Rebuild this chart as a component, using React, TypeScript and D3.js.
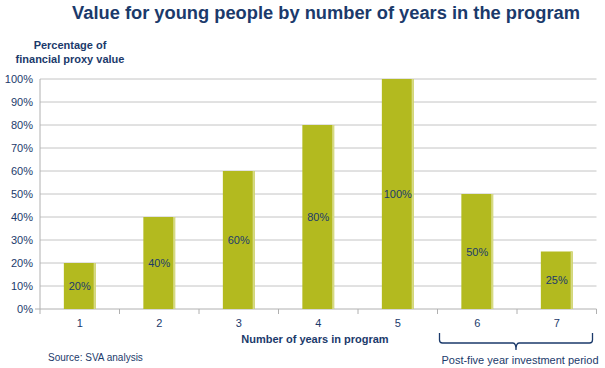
import * as React from 'react';
import * as d3 from 'd3';

const years = ['1', '2', '3', '4', '5', '6', '7'];
const values = [20, 40, 60, 80, 100, 50, 25];
const yTicks = [0, 10, 20, 30, 40, 50, 60, 70, 80, 90, 100];

const navy = '#1b3a6b';
const barColor = '#b3ba1f';
const font = 'Liberation Sans, Arial, sans-serif';

export default function App() {
  const ref = React.useRef<SVGSVGElement>(null);

  React.useEffect(() => {
    const svg = d3.select(ref.current);
    svg.selectAll('*').remove();

    const left = 40, right = 596.5, top = 79, bottom = 309;

    const x = d3.scaleBand().domain(years).range([left, right]).paddingInner(0.6).paddingOuter(0.3);
    const xb = d3.scaleBand().domain(years).range([left, right]);
    const y = d3.scaleLinear().domain([0, 100]).range([bottom, top]);

    // gridlines
    svg.append('g').selectAll('line').data(yTicks.filter(d => d > 0)).enter()
      .append('line')
      .attr('x1', left).attr('x2', right)
      .attr('y1', d => y(d)).attr('y2', d => y(d))
      .attr('stroke', '#c4c4c4').attr('stroke-width', 1);

    // y tick labels
    svg.append('g').selectAll('text').data(yTicks).enter()
      .append('text')
      .attr('x', left - 7).attr('y', d => y(d) + 4)
      .attr('text-anchor', 'end')
      .attr('font-family', font).attr('font-size', 11).attr('fill', navy)
      .text(d => `${d}%`);

    // axes
    svg.append('line').attr('x1', left).attr('x2', left).attr('y1', top).attr('y2', bottom + 5)
      .attr('stroke', '#b0b0b0');
    svg.append('line').attr('x1', left - 5).attr('x2', right).attr('y1', bottom).attr('y2', bottom)
      .attr('stroke', '#b0b0b0');
    svg.append('g').selectAll('line').data(years).enter()
      .append('line')
      .attr('x1', d => (xb(d) as number) + xb.bandwidth()).attr('x2', d => (xb(d) as number) + xb.bandwidth())
      .attr('y1', bottom).attr('y2', bottom + 5)
      .attr('stroke', '#b0b0b0');

    // bars
    const bars = svg.append('g').selectAll('g').data(years).enter().append('g');
    bars.append('rect')
      .attr('x', d => x(d) as number)
      .attr('y', (d, i) => y(values[i]))
      .attr('width', x.bandwidth())
      .attr('height', (d, i) => bottom - y(values[i]))
      .attr('fill', barColor);
    bars.append('rect')
      .attr('x', d => (x(d) as number) + x.bandwidth() - 2)
      .attr('y', (d, i) => y(values[i]))
      .attr('width', 2)
      .attr('height', (d, i) => bottom - y(values[i]))
      .attr('fill', '#d6da84');
    bars.append('text')
      .attr('x', d => (x(d) as number) + x.bandwidth() / 2)
      .attr('y', (d, i) => (y(values[i]) + bottom) / 2 + 4)
      .attr('text-anchor', 'middle')
      .attr('font-family', font).attr('font-size', 11).attr('fill', navy)
      .text((d, i) => `${values[i]}%`);

    // x tick labels
    svg.append('g').selectAll('text').data(years).enter()
      .append('text')
      .attr('x', d => (xb(d) as number) + xb.bandwidth() / 2)
      .attr('y', 327)
      .attr('text-anchor', 'middle')
      .attr('font-family', font).attr('font-size', 11).attr('fill', navy)
      .text(d => d);

    // title
    svg.append('text')
      .attr('x', 326).attr('y', 19)
      .attr('text-anchor', 'middle')
      .attr('font-family', font).attr('font-size', 18.3).attr('font-weight', 'bold').attr('fill', navy)
      .text('Value for young people by number of years in the program');

    // y axis title
    svg.append('text')
      .attr('x', 70).attr('y', 49)
      .attr('text-anchor', 'middle')
      .attr('font-family', font).attr('font-size', 11).attr('font-weight', 'bold').attr('fill', navy)
      .text('Percentage of');
    svg.append('text')
      .attr('x', 70).attr('y', 63)
      .attr('text-anchor', 'middle')
      .attr('font-family', font).attr('font-size', 11).attr('font-weight', 'bold').attr('fill', navy)
      .text('financial proxy value');

    // x axis title
    svg.append('text')
      .attr('x', 315).attr('y', 343)
      .attr('text-anchor', 'middle')
      .attr('font-family', font).attr('font-size', 11).attr('font-weight', 'bold').attr('fill', navy)
      .text('Number of years in program');

    // source
    svg.append('text')
      .attr('x', 48).attr('y', 361)
      .attr('font-family', font).attr('font-size', 10).attr('fill', navy)
      .text('Source: SVA analysis');

    // brace under years 6-7
    const bx1 = (xb('6') as number) + 2;
    const bx2 = (xb('7') as number) + xb.bandwidth() - 4;
    const bm = (bx1 + bx2) / 2;
    const by = 333, bb = 343;
    svg.append('path')
      .attr('d', `M${bx1},${by} L${bx1},${bb - 3} Q${bx1},${bb} ${bx1 + 3},${bb} L${bm - 3},${bb} Q${bm},${bb} ${bm},${bb + 7} Q${bm},${bb} ${bm + 3},${bb} L${bx2 - 3},${bb} Q${bx2},${bb} ${bx2},${bb - 3} L${bx2},${by}`)
      .attr('fill', 'none').attr('stroke', navy).attr('stroke-width', 1.3);

    svg.append('text')
      .attr('x', 520).attr('y', 364)
      .attr('text-anchor', 'middle')
      .attr('font-family', font).attr('font-size', 11).attr('fill', navy)
      .text('Post-five year investment period');
  }, []);

  return (
    <svg ref={ref} width={605} height={368}
      style={{ position: 'absolute', left: 0, top: 0, background: '#fff' }} />
  );
}
